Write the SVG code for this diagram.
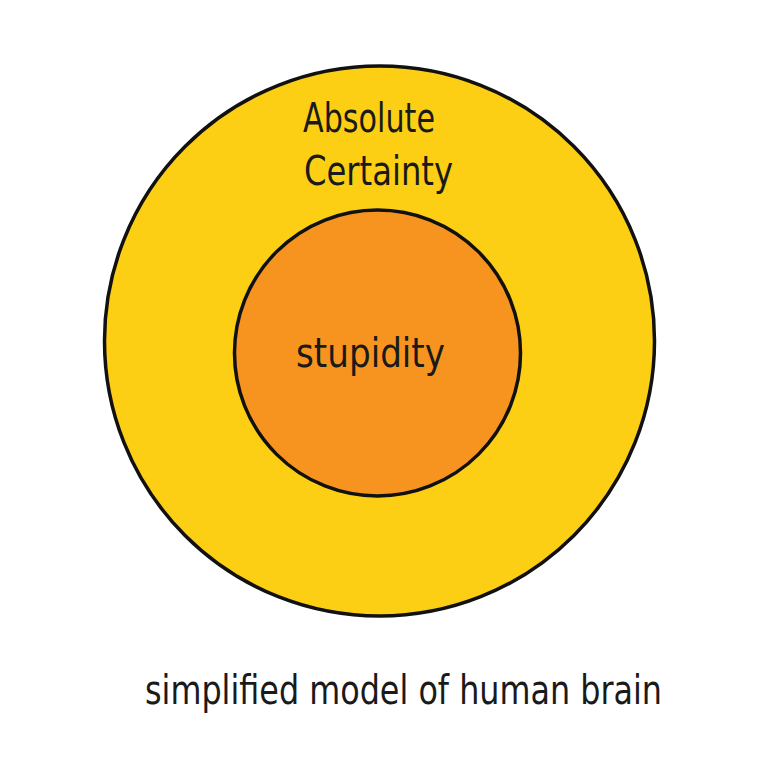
<svg xmlns="http://www.w3.org/2000/svg" width="761" height="761" viewBox="0 0 761 761">
<style>
.t{font-family:"Liberation Sans Narrow","DejaVu Sans Condensed","Liberation Sans",sans-serif;fill:#1a1a1a;font-size:40px}
.c{stroke:#111;stroke-width:3.5}
</style>
<rect width="761" height="761" fill="#fff"/>
<g id="outer">
<circle class="c" cx="379.5" cy="341" r="275" fill="#FCCF14"/>
<text class="t" x="303" y="132" textLength="132" lengthAdjust="spacingAndGlyphs">Absolute</text>
<text class="t" x="304" y="185" textLength="149" lengthAdjust="spacingAndGlyphs">Certainty</text>
</g>
<g id="inner">
<circle class="c" cx="377.5" cy="353" r="143" fill="#F7941F"/>
<text class="t" x="296" y="367" textLength="149" lengthAdjust="spacingAndGlyphs">stupidity</text>
</g>
<g id="caption">
<text class="t" x="145" y="704" font-size="42" textLength="517" lengthAdjust="spacingAndGlyphs">simplified model of human brain</text>
</g>
<g id="connectors"/>
</svg>
